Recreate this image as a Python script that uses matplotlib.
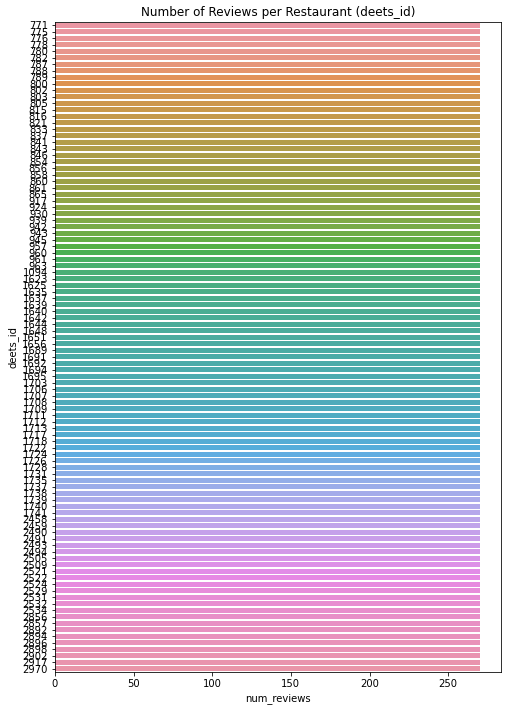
import matplotlib
matplotlib.use("Agg")
import matplotlib.pyplot as plt
import seaborn as sns

# restaurant ids as shown on the y axis
deets_ids = [
    771, 775, 776, 778, 780, 782, 787, 788, 789, 800,
    802, 803, 805, 815, 816, 821, 833, 837, 841, 843,
    846, 854, 856, 858, 860, 861, 865, 917, 924, 930,
    939, 942, 943, 945, 957, 960, 961, 963, 1094, 1623,
    1625, 1635, 1637, 1639, 1640, 1642, 1644, 1648, 1651, 1656,
    1689, 1691, 1692, 1694, 1695, 1703, 1706, 1707, 1708, 1709,
    1711, 1712, 1713, 1717, 1718, 1722, 1724, 1726, 1728, 1731,
    1735, 1737, 1738, 1739, 1740, 1741, 2458, 2459, 2490, 2491,
    2493, 2494, 2505, 2509, 2521, 2522, 2524, 2529, 2531, 2532,
    2534, 2856, 2857, 2892, 2894, 2896, 2898, 2902, 2917, 2970,
]
# every restaurant has the same review count
num_reviews = [270] * len(deets_ids)

labels = [str(d) for d in deets_ids]

# seaborn's old categorical default: husl palette, desaturated to 0.75
colors = [sns.desaturate(c, 0.75) for c in sns.husl_palette(len(labels), l=0.7)]

fig = plt.figure(figsize=(508 / 72, 714 / 72), dpi=72)
ax = fig.add_axes([0.108, 0.059, 0.878, 0.910])

ypos = list(range(len(labels)))
ax.barh(ypos, num_reviews, height=0.8, color=colors)
ax.set_yticks(ypos)
ax.set_yticklabels(labels, fontsize=10)
ax.set_ylim(len(labels) - 0.5, -0.5)
ax.set_xlim(0, max(num_reviews) * 1.05)
ax.tick_params(axis="x", labelsize=10)

ax.set_xlabel("num_reviews", fontsize=10)
ax.set_ylabel("deets_id", fontsize=10)
ax.set_title("Number of Reviews per Restaurant (deets_id)", fontsize=12)

fig.savefig("out.png", dpi=72)
